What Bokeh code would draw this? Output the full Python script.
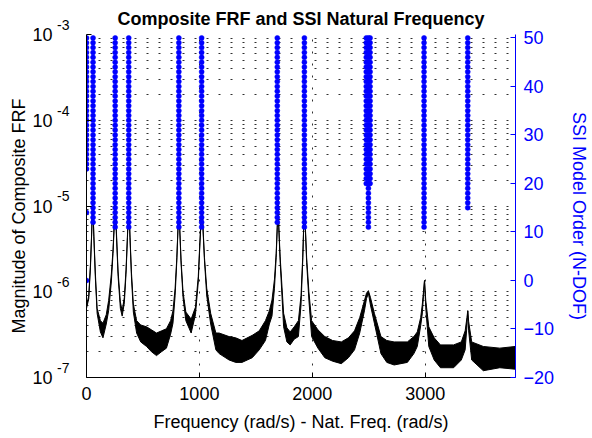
from bokeh.plotting import figure
from bokeh.models import (Range1d, LinearAxis, LogAxis, LinearScale, FixedTicker,
                          CustomJSTickFormatter, ColumnDataSource)
from bokeh.embed import file_html
from bokeh.resources import INLINE

# ---------------- data ----------------
# Composite FRF: frequency (rad/s) with upper / lower edge of the noisy band
frf_freq = [0, 20, 35, 45, 55, 65, 78, 94, 123, 146, 175, 196,
            220, 235, 245, 254, 265, 280, 300, 316, 335, 350, 363, 374,
            385, 398, 415, 444, 480, 532, 575, 620, 665, 708, 745, 766,
            785, 800, 810, 818, 826, 838, 855, 880, 927, 965, 990, 1005,
            1015, 1023, 1031, 1045, 1065, 1100, 1146, 1175, 1263, 1322, 1377, 1468,
            1530, 1585, 1620, 1643, 1665, 1680, 1690, 1696, 1703, 1715, 1746, 1775,
            1804, 1840, 1877, 1900, 1915, 1924, 1930, 1938, 1950, 1970, 1994, 2050,
            2111, 2180, 2257, 2320, 2374, 2420, 2462, 2480, 2497, 2515, 2550, 2608,
            2660, 2725, 2842, 2900, 2930, 2960, 2974, 2985, 2994, 3005, 3032, 3080,
            3135, 3252, 3320, 3354, 3370, 3377, 3385, 3412, 3515, 3661, 3798]
frf_hi = [6.8e-7, 9.0e-7, 2.1e-6, 4.6e-6, 1.2e-5, 4.6e-6, 1.7e-6, 6.4e-7, 4.6e-7, 4.3e-7, 5.4e-7, 7.9e-7,
          1.6e-6, 3.1e-6, 6.0e-6, 1.2e-5, 5.0e-6, 1.7e-6, 7.6e-7, 6.0e-7, 8.6e-7, 1.8e-6, 4.6e-6, 1.2e-5,
          4.6e-6, 1.7e-6, 7.2e-7, 4.6e-7, 4.1e-7, 3.9e-7, 3.6e-7, 3.3e-7, 3.5e-7, 3.7e-7, 4.6e-7, 6.0e-7,
          1.1e-6, 2.5e-6, 5.5e-6, 1.2e-5, 5.5e-6, 2.3e-6, 1.0e-6, 5.8e-7, 4.8e-7, 6.6e-7, 1.5e-6, 4.0e-6,
          7.0e-6, 1.2e-5, 6.0e-6, 2.5e-6, 1.1e-6, 5.6e-7, 3.3e-7, 3.3e-7, 3.0e-7, 2.9e-7, 2.7e-7, 3.1e-7,
          3.5e-7, 4.6e-7, 6.0e-7, 8.0e-7, 1.4e-6, 2.8e-6, 6.0e-6, 1.2e-5, 6.0e-6, 2.6e-6, 5.6e-7, 3.8e-7,
          3.4e-7, 3.9e-7, 4.6e-7, 9.0e-7, 2.5e-6, 6.0e-6, 1.2e-5, 6.0e-6, 2.5e-6, 1.0e-6, 4.6e-7, 3.6e-7,
          3.0e-7, 2.7e-7, 2.6e-7, 2.9e-7, 3.5e-7, 5.0e-7, 7.9e-7, 9.6e-7, 1.03e-6, 8.6e-7, 5.6e-7, 3.0e-7,
          2.7e-7, 2.6e-7, 2.6e-7, 3.0e-7, 3.4e-7, 5.0e-7, 7.0e-7, 1.0e-6, 1.35e-6, 8.0e-7, 3.9e-7, 2.9e-7,
          2.4e-7, 2.4e-7, 2.6e-7, 3.5e-7, 5.0e-7, 6.0e-7, 4.5e-7, 2.6e-7, 2.3e-7, 2.2e-7, 2.3e-7]
frf_lo = [6.4e-7, 8.3e-7, 1.9e-6, 4.4e-6, 1.2e-5, 4.4e-6, 1.5e-6, 5.6e-7, 3.4e-7, 2.9e-7, 4.2e-7, 6.0e-7,
          1.3e-6, 2.8e-6, 5.6e-6, 1.2e-5, 4.6e-6, 1.5e-6, 6.4e-7, 5.2e-7, 7.4e-7, 1.6e-6, 4.3e-6, 1.2e-5,
          4.3e-6, 1.5e-6, 5.8e-7, 3.3e-7, 2.6e-7, 2.3e-7, 2.0e-7, 1.8e-7, 2.0e-7, 2.2e-7, 3.2e-7, 4.3e-7,
          9.0e-7, 2.3e-6, 5.2e-6, 1.2e-5, 5.2e-6, 2.1e-6, 8.6e-7, 4.6e-7, 3.3e-7, 5.4e-7, 1.3e-6, 3.7e-6,
          6.6e-6, 1.2e-5, 5.6e-6, 2.3e-6, 9.0e-7, 4.2e-7, 2.1e-7, 1.9e-7, 1.6e-7, 1.5e-7, 1.5e-7, 1.7e-7,
          2.1e-7, 2.7e-7, 4.2e-7, 5.2e-7, 1.1e-6, 2.5e-6, 5.6e-6, 1.2e-5, 5.6e-6, 2.3e-6, 3.9e-7, 2.6e-7,
          2.4e-7, 2.8e-7, 3.0e-7, 7.0e-7, 2.2e-6, 5.6e-6, 1.2e-5, 5.6e-6, 2.2e-6, 8.0e-7, 3.0e-7, 2.2e-7,
          1.7e-7, 1.55e-7, 1.45e-7, 1.7e-7, 2.1e-7, 3.3e-7, 6.0e-7, 8.3e-7, 9.6e-7, 7.0e-7, 4.3e-7, 1.9e-7,
          1.5e-7, 1.4e-7, 1.5e-7, 1.9e-7, 2.3e-7, 4.0e-7, 5.5e-7, 9.0e-7, 1.35e-6, 6.5e-7, 2.3e-7, 1.6e-7,
          1.3e-7, 1.3e-7, 1.6e-7, 2.1e-7, 4.0e-7, 6.0e-7, 3.5e-7, 1.6e-7, 1.2e-7, 1.3e-7, 1.25e-7]

# SSI stabilisation columns: natural frequency, lowest model order shown (up to 50)
stab_freq = [0, 58, 254, 374, 818, 1020, 1690, 1930, 2497, 2478, 2512, 2990, 3377]
stab_min_order = [23, 12, 11, 11, 11, 11, 12, 11, 11, 20, 20, 11, 15]
stab_max_order = 50
# isolated SSI poles
extra_freq = [0, 0]
extra_order = [14, 0]

x_ticks = [0, 1000, 2000, 3000]
left_ticks = [1e-7, 1e-6, 1e-5, 1e-4, 1e-3]
right_ticks = [-20, -10, 0, 10, 20, 30, 40, 50]

# ---------------- figure ----------------
FONT = "Liberation Sans"
BLUE = "#0000ff"
NB = "\u00a0" * 4   # padding that nudges the rotated axis titles down a little

p = figure(width=592, height=438, output_backend="svg", toolbar_location=None,
           x_range=Range1d(0, 3800), y_range=Range1d(1e-7, 1e-3), y_axis_type="log",
           min_border_left=86, min_border_right=73, min_border_top=34, min_border_bottom=61,
           background_fill_color="white", border_fill_color="white")
p.outline_line_color = None
p.extra_y_ranges = {"order": Range1d(-20, 50.7)}
p.extra_y_scales = {"order": LinearScale()}

p.title.text = "Composite FRF and SSI Natural Frequency"
p.title.align = "center"
p.title.text_font = FONT
p.title.text_font_size = "18px"
p.title.text_font_style = "bold"
p.title.text_color = "black"
p.title.standoff = 11

# grids
minor = [k * 10.0 ** e for e in range(-7, -3) for k in range(2, 10)]
yticker = FixedTicker(ticks=left_ticks, minor_ticks=minor)
xticker = FixedTicker(ticks=x_ticks)
p.yaxis[0].ticker = yticker
p.ygrid[0].ticker = yticker
p.xaxis[0].ticker = xticker
p.xgrid[0].ticker = xticker
for g in (p.xgrid[0], p.ygrid[0]):
    g.grid_line_color = "#303030"
    g.grid_line_dash = "2 10"
    g.grid_line_width = 1
p.ygrid[0].minor_grid_line_color = "#303030"
p.ygrid[0].minor_grid_line_dash = "2 10"

# axes styling
for ax in (p.xaxis[0], p.yaxis[0]):
    ax.axis_line_color = "black"
    ax.major_tick_line_color = "black"
    ax.major_tick_in = 5
    ax.major_tick_out = 0
    ax.minor_tick_line_color = None
    ax.major_label_text_font = FONT
    ax.major_label_text_font_size = "18px"
    ax.major_label_text_color = "black"
    ax.axis_label_text_font = FONT
    ax.axis_label_text_font_size = "18px"
    ax.axis_label_text_font_style = "normal"
    ax.axis_label_text_color = "black"

p.xaxis[0].axis_label = "Frequency (rad/s) - Nat. Freq. (rad/s)"
p.xaxis[0].major_label_standoff = 9
p.xaxis[0].axis_label_standoff = 9

# inner left axis: the frame line, ticks and the superscript exponents
# (a blank second line lifts each exponent above the tick, like a superscript)
ly = p.yaxis[0]
ly.major_label_text_font_size = "14px"
ly.major_label_standoff = 13
ly.formatter = CustomJSTickFormatter(code="return String(Math.round(Math.log10(tick))) + '\\n ';")

# outer left axis: the "10" bases and the axis title
lb = LogAxis(ticker=FixedTicker(ticks=left_ticks),
             axis_label="Magnitude of Composite FRF" + NB,
             formatter=CustomJSTickFormatter(code="return '10';"))
lb.axis_line_color = None
lb.major_tick_line_color = None
lb.minor_tick_line_color = None
lb.major_tick_in = 0
lb.major_tick_out = 0
lb.major_label_standoff = 2
lb.major_label_text_font = FONT
lb.major_label_text_font_size = "18px"
lb.major_label_text_color = "black"
lb.axis_label_text_font = FONT
lb.axis_label_text_font_size = "18px"
lb.axis_label_text_font_style = "normal"
lb.axis_label_text_color = "black"
lb.axis_label_standoff = 0
p.add_layout(lb, "left")

rax = LinearAxis(y_range_name="order", ticker=FixedTicker(ticks=right_ticks),
                 axis_label=NB + "SSI Model Order (N-DOF)")
rax.axis_line_color = BLUE
rax.major_tick_line_color = BLUE
rax.major_tick_in = 5
rax.major_tick_out = 0
rax.minor_tick_line_color = None
rax.major_label_text_font = FONT
rax.major_label_text_font_size = "18px"
rax.major_label_text_color = BLUE
rax.major_label_standoff = 8
rax.axis_label_text_font = FONT
rax.axis_label_text_font_size = "18px"
rax.axis_label_text_font_style = "normal"
rax.axis_label_text_color = BLUE
rax.axis_label_standoff = 12
p.add_layout(rax, "right")

# FRF band
src = ColumnDataSource(dict(f=frf_freq, hi=frf_hi, lo=frf_lo))
p.varea(x="f", y1="lo", y2="hi", source=src, fill_color="black")
p.line(x="f", y="hi", source=src, line_color="black", line_width=1)
p.line(x="f", y="lo", source=src, line_color="black", line_width=1)

# SSI stabilisation dots
sx, sy = [], []
for f, omin in zip(stab_freq, stab_min_order):
    for o in range(omin, stab_max_order + 1):
        sx.append(f)
        sy.append(o)
sx += extra_freq
sy += extra_order
p.scatter(x=sx, y=sy, y_range_name="order", marker="circle", size=5,
          fill_color=BLUE, line_color=BLUE, line_width=0.5)

open("out.html", "w").write(file_html(p, INLINE))
